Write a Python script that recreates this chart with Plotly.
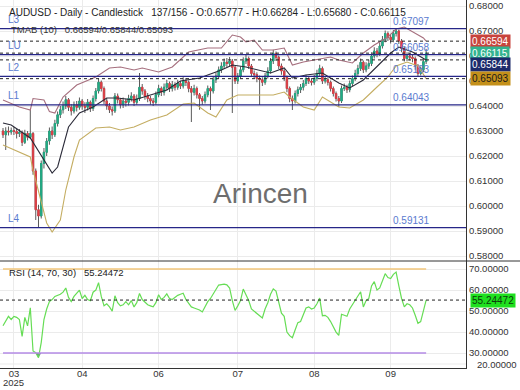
import numpy as np
import plotly.graph_objects as go
from plotly.subplots import make_subplots

# ---------------- data ----------------
OPEN = [0.6300, 0.6285, 0.6300, 0.6296, 0.6302, 0.6298, 0.6290, 0.6294, 0.6255, 0.6290,
        0.6275, 0.6290, 0.6140, 0.5985, 0.5960, 0.6170, 0.6215, 0.6260, 0.6300, 0.6285,
        0.6330, 0.6365, 0.6385, 0.6400, 0.6425, 0.6395, 0.6380, 0.6405, 0.6395, 0.6420,
        0.6400, 0.6395, 0.6415, 0.6390, 0.6430, 0.6460, 0.6495, 0.6470, 0.6420, 0.6400,
        0.6385, 0.6380, 0.6440, 0.6425, 0.6405, 0.6420, 0.6415, 0.6430, 0.6440, 0.6415,
        0.6430, 0.6475, 0.6460, 0.6440, 0.6430, 0.6420, 0.6415, 0.6445, 0.6470, 0.6455,
        0.6475, 0.6490, 0.6470, 0.6485, 0.6475, 0.6490, 0.6480, 0.6500, 0.6495, 0.6470,
        0.6455, 0.6470, 0.6445, 0.6430, 0.6420, 0.6445, 0.6470, 0.6460, 0.6505, 0.6520,
        0.6545, 0.6560, 0.6575, 0.6570, 0.6580, 0.6555, 0.6500, 0.6520, 0.6545, 0.6580,
        0.6590, 0.6560, 0.6530, 0.6525, 0.6510, 0.6505, 0.6495, 0.6520, 0.6540, 0.6580,
        0.6610, 0.6595, 0.6560, 0.6540, 0.6515, 0.6470, 0.6430, 0.6420, 0.6450, 0.6465,
        0.6475, 0.6490, 0.6510, 0.6500, 0.6495, 0.6510, 0.6530, 0.6550, 0.6500, 0.6505,
        0.6495, 0.6470, 0.6450, 0.6430, 0.6420, 0.6470, 0.6475, 0.6465, 0.6490, 0.6510,
        0.6530, 0.6550, 0.6575, 0.6545, 0.6560, 0.6570, 0.6600, 0.6620, 0.6610, 0.6640,
        0.6665, 0.6690, 0.6675, 0.6665, 0.6690, 0.6700, 0.6660, 0.6630, 0.6590, 0.6600,
        0.6595, 0.6590, 0.6560, 0.6530, 0.6545, 0.65777]

HIGH = [0.6312, 0.6315, 0.6318, 0.6314, 0.6316, 0.6310, 0.6308, 0.6302, 0.6305, 0.6300,
        0.6384, 0.6296, 0.6150, 0.6005, 0.6182, 0.6232, 0.6272, 0.6314, 0.6318, 0.6345,
        0.6378, 0.6400, 0.6418, 0.6440, 0.6432, 0.6408, 0.6418, 0.6420, 0.6434, 0.6428,
        0.6415, 0.6428, 0.6422, 0.6442, 0.6472, 0.6510, 0.6502, 0.6478, 0.6432, 0.6412,
        0.6398, 0.6452, 0.6450, 0.6432, 0.6434, 0.6430, 0.6445, 0.6455, 0.6448, 0.6446,
        0.6532, 0.6488, 0.6468, 0.6452, 0.6440, 0.6432, 0.6458, 0.6485, 0.6478, 0.6490,
        0.6505, 0.6498, 0.6500, 0.6495, 0.6505, 0.6500, 0.6515, 0.6512, 0.6502, 0.6480,
        0.6485, 0.6478, 0.6452, 0.6440, 0.6458, 0.6482, 0.6478, 0.6518, 0.6535, 0.6558,
        0.6575, 0.6590, 0.6592, 0.6596, 0.6588, 0.6562, 0.6532, 0.6558, 0.6595, 0.6605,
        0.6598, 0.6568, 0.6542, 0.6535, 0.6522, 0.6515, 0.6532, 0.6555, 0.6592, 0.6625,
        0.6618, 0.6602, 0.6570, 0.6548, 0.6522, 0.6478, 0.6442, 0.6462, 0.6478, 0.6488,
        0.6504, 0.6525, 0.6520, 0.6512, 0.6524, 0.6545, 0.6565, 0.6558, 0.6520, 0.6515,
        0.6502, 0.6478, 0.6458, 0.6440, 0.6482, 0.6490, 0.6485, 0.6502, 0.6522, 0.6545,
        0.6565, 0.6590, 0.6582, 0.6575, 0.6585, 0.6615, 0.6635, 0.6632, 0.6655, 0.6680,
        0.6702, 0.6698, 0.6685, 0.6704, 0.67097, 0.6706, 0.6668, 0.6638, 0.6615, 0.6612,
        0.6608, 0.6598, 0.6568, 0.6558, 0.6590, 0.66284]

LOW = [0.6272, 0.6224, 0.6282, 0.6285, 0.6284, 0.6270, 0.6276, 0.6240, 0.6248, 0.6262,
       0.6268, 0.6125, 0.5944, 0.5913, 0.5950, 0.6150, 0.6200, 0.6245, 0.6268, 0.6276,
       0.6318, 0.6352, 0.6370, 0.6388, 0.6380, 0.6362, 0.6370, 0.6378, 0.6385, 0.6385,
       0.6372, 0.6382, 0.6376, 0.6380, 0.6418, 0.6450, 0.6458, 0.6408, 0.6385, 0.6372,
       0.6362, 0.6372, 0.6410, 0.6390, 0.6392, 0.6398, 0.6402, 0.6418, 0.6400, 0.6405,
       0.6420, 0.6445, 0.6425, 0.6415, 0.6405, 0.6400, 0.6405, 0.6435, 0.6440, 0.6442,
       0.6462, 0.6456, 0.6458, 0.6462, 0.6465, 0.6468, 0.6470, 0.6480, 0.6455, 0.6336,
       0.6442, 0.6430, 0.6385, 0.6405, 0.6410, 0.6435, 0.6384, 0.6450, 0.6492, 0.6510,
       0.6532, 0.6548, 0.6555, 0.6558, 0.6372, 0.6488, 0.6488, 0.6510, 0.6535, 0.6568,
       0.6548, 0.6518, 0.6512, 0.6495, 0.6404, 0.6480, 0.6485, 0.6510, 0.6530, 0.6568,
       0.6580, 0.6548, 0.6525, 0.6500, 0.6455, 0.6415, 0.6384, 0.6410, 0.6438, 0.6452,
       0.6462, 0.6480, 0.6488, 0.6482, 0.6485, 0.6500, 0.6520, 0.6488, 0.6490, 0.6482,
       0.6458, 0.6438, 0.6418, 0.6396, 0.6412, 0.6460, 0.6452, 0.6455, 0.6480, 0.6500,
       0.6520, 0.6540, 0.6532, 0.6535, 0.6548, 0.6560, 0.6590, 0.6595, 0.6600, 0.6630,
       0.6655, 0.6660, 0.6650, 0.6655, 0.6678, 0.6648, 0.6615, 0.6578, 0.6580, 0.6582,
       0.6575, 0.6545, 0.6518, 0.6522, 0.6535, 0.65680]

CLOSE = [0.6285, 0.6300, 0.6296, 0.6302, 0.6298, 0.6290, 0.6294, 0.6255, 0.6290, 0.6275,
         0.6290, 0.6140, 0.5985, 0.5960, 0.6170, 0.6215, 0.6260, 0.6300, 0.6285, 0.6330,
         0.6365, 0.6385, 0.6400, 0.6425, 0.6395, 0.6380, 0.6405, 0.6395, 0.6420, 0.6400,
         0.6395, 0.6415, 0.6390, 0.6430, 0.6460, 0.6495, 0.6470, 0.6420, 0.6400, 0.6385,
         0.6380, 0.6440, 0.6425, 0.6405, 0.6420, 0.6415, 0.6430, 0.6440, 0.6415, 0.6430,
         0.6475, 0.6460, 0.6440, 0.6430, 0.6420, 0.6415, 0.6445, 0.6470, 0.6455, 0.6475,
         0.6490, 0.6470, 0.6485, 0.6475, 0.6490, 0.6480, 0.6500, 0.6495, 0.6470, 0.6455,
         0.6470, 0.6445, 0.6430, 0.6420, 0.6445, 0.6470, 0.6460, 0.6505, 0.6520, 0.6545,
         0.6560, 0.6575, 0.6570, 0.6580, 0.6555, 0.6500, 0.6520, 0.6545, 0.6580, 0.6590,
         0.6560, 0.6530, 0.6525, 0.6510, 0.6505, 0.6495, 0.6520, 0.6540, 0.6580, 0.6610,
         0.6595, 0.6560, 0.6540, 0.6515, 0.6470, 0.6430, 0.6420, 0.6450, 0.6465, 0.6475,
         0.6490, 0.6510, 0.6500, 0.6495, 0.6510, 0.6530, 0.6550, 0.6500, 0.6505, 0.6495,
         0.6470, 0.6450, 0.6430, 0.6420, 0.6470, 0.6475, 0.6465, 0.6490, 0.6510, 0.6530,
         0.6550, 0.6575, 0.6545, 0.6560, 0.6570, 0.6600, 0.6620, 0.6610, 0.6640, 0.6665,
         0.6690, 0.6675, 0.6665, 0.6690, 0.6700, 0.6660, 0.6630, 0.6590, 0.6600, 0.6595,
         0.6590, 0.6560, 0.6530, 0.6545, 0.65777, 0.66115]

RSI = [43, 45, 47.5, 46, 47.5, 47, 46, 38, 47, 43,
       51.6, 31, 30.2, 27.8, 35, 46, 51, 54.5, 55.5, 57,
       57.5, 58, 59, 61, 56.5, 54.5, 57, 58.5, 60, 56,
       57.5, 55.5, 55, 59, 60, 63.5, 57, 52.5, 53.5, 52,
       50, 57.3, 54, 52.5, 53, 54.5, 53, 55, 52, 54,
       58.4, 55.5, 54, 53, 52.5, 52, 54, 57.8, 55.5, 56.5,
       58.2, 56, 55.5, 56.5, 57.5, 58, 58.5, 55.5, 54, 52,
       51.5, 51, 50.5, 49.6, 52, 54.5, 56, 58, 60, 62.4,
       62.6, 62.8, 62.5, 61, 55, 50.3, 52.5, 55, 60.5, 58,
       55, 51, 50, 49, 48, 46.7, 51, 54, 58, 60.6,
       59.5, 54, 49, 47.5, 40, 38.3, 37.3, 41, 44.5, 45,
       48, 51.5, 52, 51, 51.5, 53.5, 56.2, 47.8, 48, 47,
       45, 42.5, 40, 38.4, 48.5, 48, 47.5, 51, 53, 55,
       57, 59.2, 52, 55, 56, 62, 64, 60, 61, 64,
       67.8, 66, 65.5, 67.5, 68.6, 62, 56, 52, 53.5, 53,
       51.5, 48, 44.2, 45, 50, 55.24472]

# TMAB(10) bands, read at selected bars
TMAB_UP_BARS = [0, 6, 10, 11, 15, 17, 19, 22, 27, 34, 39, 43, 48, 51, 57, 62, 68, 75, 80, 84,
                87, 89, 92, 95, 99, 103, 106, 110, 114, 120, 123, 128, 132, 136, 141, 144, 147,
                150, 154, 155]
TMAB_UP = [0.6424, 0.6396, 0.6384, 0.6430, 0.6424, 0.6378, 0.6372, 0.6436, 0.6484, 0.6516,
           0.6552, 0.6556, 0.6544, 0.6552, 0.6536, 0.6556, 0.6616, 0.6632, 0.6632, 0.6684,
           0.6676, 0.6656, 0.6664, 0.6624, 0.6624, 0.6632, 0.6564, 0.6576, 0.6584, 0.6596,
           0.6584, 0.6572, 0.6612, 0.6644, 0.6676, 0.6708, 0.6716, 0.6696, 0.6672, 0.66594]
TMAB_MID_BARS = [0, 3, 10, 12, 15, 18, 20, 22, 24, 28, 33, 38, 42, 48, 54, 60, 65, 72, 80, 84,
                 89, 94, 98, 103, 106, 111, 117, 123, 127, 132, 137, 142, 145, 150, 155]
TMAB_MID = [0.6332, 0.6324, 0.6272, 0.6236, 0.6184, 0.6132, 0.6156, 0.6236, 0.6316, 0.6372,
            0.6396, 0.6432, 0.6432, 0.6424, 0.6444, 0.6464, 0.6500, 0.6512, 0.6544, 0.6564,
            0.6556, 0.6544, 0.6532, 0.6552, 0.6512, 0.6524, 0.6532, 0.6492, 0.6472, 0.6504,
            0.6556, 0.6612, 0.6636, 0.6616, 0.65844]
TMAB_LOW_BARS = [0, 6, 10, 11, 14, 16, 18, 21, 23, 26, 28, 34, 39, 43, 48, 54, 60, 66, 70, 75,
                 78, 82, 86, 99, 103, 105, 110, 114, 117, 123, 127, 132, 137, 141, 144, 148,
                 152, 155]
TMAB_LOW = [0.6244, 0.6216, 0.6196, 0.6144, 0.6012, 0.5932, 0.5896, 0.5944, 0.6064, 0.6196,
            0.6264, 0.6312, 0.6316, 0.6304, 0.6316, 0.6344, 0.6364, 0.6408, 0.6412, 0.6372,
            0.6356, 0.6424, 0.6444, 0.6444, 0.6456, 0.6436, 0.6396, 0.6384, 0.6436, 0.6396,
            0.6392, 0.6424, 0.6476, 0.6516, 0.6560, 0.6576, 0.6560, 0.65093]

LEVEL_NAMES = ["L3", "LU", "L2", "L1", "L4"]
LEVEL_VALUES = [0.67097, 0.66058, 0.65183, 0.64043, 0.59131]
LEVEL_TEXT = ["0.67097", "0.66058", "0.65183", "0.64043", "0.59131"]
TMAB_LAST = [0.66594, 0.65844, 0.65093]
LAST_CLOSE = 0.66115
RSI_OB, RSI_OS = 70, 30

TICK_BARS = [4, 29, 57, 86, 114, 142]
TICK_TEXT = ["03", "04", "06", "07", "08", "09"]
YEAR_TEXT = "2025"
PRICE_TICKS = [0.58, 0.59, 0.60, 0.61, 0.62, 0.63, 0.64, 0.65, 0.66, 0.67, 0.68]
RSI_TICKS = [30, 40, 50, 60, 70]
RSI_BOTTOM_LABEL = "20.00000"

HEADER = "AUDUSD - Daily - Candlestick   137/156 - O:0.65777 - H:0.66284 - L:0.65680 - C:0.66115"
TMAB_TEXT = "TMAB (10)   0.66594/0.65844/0.65093"
RSI_TEXT = "RSI (14, 70, 30)   55.24472"

# ---------------- figure ----------------
FONT = "Liberation Sans, Arial, sans-serif"
W, H = 520, 390
ML, MR, MT, MB = 0, 54, 0, 22
PLOT_H = H - MT - MB          # 368
MAIN_H = 261
RSI_FRAC = (PLOT_H - MAIN_H) / PLOT_H

n = len(CLOSE)
bars = np.arange(n)
O = np.array(OPEN); C = np.array(CLOSE)
body_hi = np.maximum(O, C)
body_lo = np.minimum(O, C)

fig = make_subplots(rows=2, cols=1, shared_xaxes=True, vertical_spacing=0,
                    row_heights=[1 - RSI_FRAC, RSI_FRAC])

UP_C, DN_C, WICK_C = "#1fae86", "#e43f46", "#5a5a5a"

# bands
fig.add_trace(go.Scatter(x=TMAB_UP_BARS, y=TMAB_UP, mode="lines",
                         line=dict(color="#a66f7e", width=1.1), hoverinfo="skip"), 1, 1)
fig.add_trace(go.Scatter(x=TMAB_MID_BARS, y=TMAB_MID, mode="lines",
                         line=dict(color="#2a2a38", width=1.1), hoverinfo="skip"), 1, 1)
fig.add_trace(go.Scatter(x=TMAB_LOW_BARS, y=TMAB_LOW, mode="lines",
                         line=dict(color="#c4ad62", width=1.1), hoverinfo="skip"), 1, 1)

# wicks (gray) then coloured bodies
fig.add_trace(go.Candlestick(x=bars, open=OPEN, high=HIGH, low=LOW, close=CLOSE,
                             increasing=dict(line=dict(color=WICK_C, width=1), fillcolor=WICK_C),
                             decreasing=dict(line=dict(color=WICK_C, width=1), fillcolor=WICK_C),
                             hoverinfo="skip"), 1, 1)
fig.add_trace(go.Candlestick(x=bars, open=OPEN, high=body_hi, low=body_lo, close=CLOSE,
                             increasing=dict(line=dict(color=UP_C, width=0.8), fillcolor=UP_C),
                             decreasing=dict(line=dict(color=DN_C, width=0.8), fillcolor=DN_C),
                             hoverinfo="skip"), 1, 1)

# RSI
rsi = np.array(RSI, dtype=float)
fig.add_trace(go.Scatter(x=bars, y=np.full(n, RSI_OS), mode="lines",
                         line=dict(width=0, color="rgba(0,0,0,0)"), hoverinfo="skip"), 2, 1)
fig.add_trace(go.Scatter(x=bars, y=np.minimum(rsi, RSI_OS), mode="lines", fill="tonexty",
                         fillcolor="rgba(110,105,150,0.9)",
                         line=dict(width=0, color="rgba(0,0,0,0)"), hoverinfo="skip"), 2, 1)
fig.add_trace(go.Scatter(x=bars, y=rsi, mode="lines",
                         line=dict(color="#66dd55", width=1.2), hoverinfo="skip"), 2, 1)

shapes = []
# level lines (solid navy)
for v in LEVEL_VALUES:
    shapes.append(dict(type="line", xref="x domain", yref="y", x0=0, x1=1, y0=v, y1=v,
                       line=dict(color="#262688", width=1.3)))
# dashed lines: TMAB last values + last close
for v in TMAB_LAST + [LAST_CLOSE]:
    shapes.append(dict(type="line", xref="x domain", yref="y", x0=0, x1=1, y0=v, y1=v,
                       line=dict(color="#222222", width=1, dash="3px,3px")))
# RSI levels
shapes.append(dict(type="line", xref="x2", yref="y2", x0=0, x1=n - 1, y0=RSI_OB, y1=RSI_OB,
                   line=dict(color="#f2c67a", width=1.5)))
shapes.append(dict(type="line", xref="x2", yref="y2", x0=0, x1=n - 1, y0=RSI_OS, y1=RSI_OS,
                   line=dict(color="#b58be6", width=1.5)))
shapes.append(dict(type="line", xref="x2 domain", yref="y2", x0=0, x1=1, y0=RSI[-1], y1=RSI[-1],
                   line=dict(color="#222222", width=1, dash="3px,3px")))
# faint bottom grid line of the RSI pane
shapes.append(dict(type="line", xref="x2 domain", yref="y2 domain", x0=0, x1=1,
                   y0=4 / (PLOT_H - MAIN_H), y1=4 / (PLOT_H - MAIN_H), layer="below",
                   line=dict(color="#ebebeb", width=1)))
# panel separator spanning the full width
plot_w = W - ML - MR
shapes.append(dict(type="line", xref="paper", yref="paper", x0=0, x1=W / plot_w,
                   y0=RSI_FRAC, y1=RSI_FRAC, line=dict(color="#333333", width=1)))

ann = []
def txt(text, x, y, size=9.5, color="#222222", xref="paper", yref="paper",
        xanchor="left", yanchor="middle", xshift=0, yshift=0, **kw):
    ann.append(dict(text=text, x=x, y=y, xref=xref, yref=yref, xanchor=xanchor,
                    yanchor=yanchor, xshift=xshift, yshift=yshift, showarrow=False,
                    font=dict(family=FONT, size=size, color=color), **kw))

txt(HEADER, 0, 1 - 12.5 / PLOT_H, size=10, xshift=7)
txt(TMAB_TEXT, 0, 1 - 29.5 / PLOT_H, size=9.5, color="#333333", xshift=9)
txt(RSI_TEXT, 0, RSI_FRAC - 11.5 / PLOT_H, size=9.5, color="#222222", xshift=7)
txt("Arincen", 260 / plot_w, 1 - 193 / PLOT_H, size=28, color="#6e6e6e", xanchor="center")
txt(YEAR_TEXT, TICK_BARS[0], -15 / PLOT_H, size=9.5, color="#333333", xref="x2",
    xanchor="center")

LBL_C = "#5a7bcf"
for name, v, t in zip(LEVEL_NAMES, LEVEL_VALUES, LEVEL_TEXT):
    txt(name, 0, v, size=10, color=LBL_C, yref="y", xshift=6, yshift=9)
    txt(t, TICK_BARS[-1], v, size=10, color=LBL_C, xref="x", yref="y", yshift=7)

# right-axis value boxes
boxes = [(TMAB_LAST[0], "#c8433c", "white", 0),
         (LAST_CLOSE, "#33b38f", "white", 0),
         (TMAB_LAST[1], "#1d2a6b", "white", -5),
         (TMAB_LAST[2], "#c4901a", "#1a1a1a", 0)]
for v, bg, fg, ys in boxes:
    txt(f"{v:.5f}", 1, v, size=10, color=fg, yref="y", xshift=4, yshift=ys,
        bgcolor=bg, borderpad=1)
txt(f"{RSI[-1]:.5f}", 1, RSI[-1], size=10, color="#0b3d0b", yref="y2", xshift=4,
    bgcolor="#1fe01f", borderpad=1)
txt(RSI_BOTTOM_LABEL, 1, 3.5 / PLOT_H, size=9.5, color="#333333", xshift=9)

fig.update_layout(
    width=W, height=H, margin=dict(l=ML, r=MR, t=MT, b=MB, autoexpand=False),
    paper_bgcolor="white", plot_bgcolor="white", showlegend=False,
    font=dict(family=FONT, size=9.5, color="#333333"),
    shapes=shapes, annotations=ann, hovermode=False,
)
xr = [-1.1, 169.6]
fig.update_xaxes(range=xr, rangeslider_visible=False, tickvals=TICK_BARS, ticktext=TICK_TEXT,
                 showgrid=True, gridcolor="#ebebeb", gridwidth=1, zeroline=False, ticks="",
                 automargin=False, ticklabelstandoff=-3,
                 tickfont=dict(size=9.5, color="#333333"))
fig.update_xaxes(showline=False, row=1, col=1)
fig.update_xaxes(showline=True, linecolor="#333333", linewidth=1, row=2, col=1)
fig.update_yaxes(side="right", showline=True, linecolor="#333333", linewidth=1,
                 showgrid=True, gridcolor="#ebebeb", zeroline=False, ticks="",
                 automargin=False, ticklabelstandoff=0,
                 tickfont=dict(size=9.5, color="#333333"))
fig.update_yaxes(range=[0.578, 0.6824], tickvals=PRICE_TICKS, tickformat=".5f", row=1, col=1)
fig.update_yaxes(range=[22.9, 73.85], tickvals=RSI_TICKS, tickformat=".5f", row=2, col=1)

fig.write_html("out.html", config={"displayModeBar": False},
               post_script="document.body.style.margin='0';document.body.style.overflow='hidden';")
